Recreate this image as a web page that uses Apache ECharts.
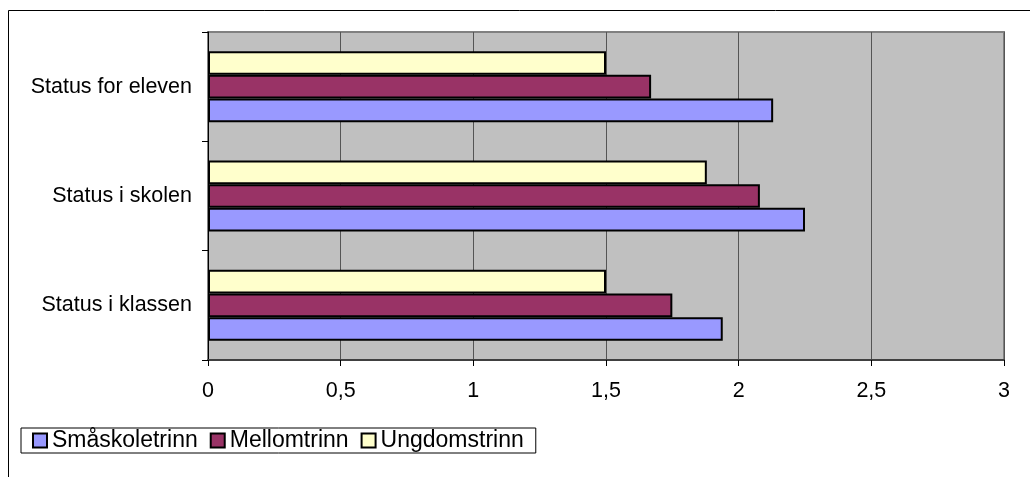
<!DOCTYPE html>
<html>
<head>
<meta charset="utf-8">
<script src="https://cdn.jsdelivr.net/npm/echarts@6/dist/echarts.min.js"></script>
<style>
html,body{margin:0;padding:0;background:#fff;}
#chart{width:1030px;height:477px;}
</style>
</head>
<body>
<div id="chart"></div>
<script>
const categories = ['Status i klassen', 'Status i skolen', 'Status for eleven'];
const seriesNames = ['Småskoletrinn', 'Mellomtrinn', 'Ungdomstrinn'];
const smaskoletrinn = [1.94, 2.25, 2.13];
const mellomtrinn = [1.75, 2.08, 1.67];
const ungdomstrinn = [1.5, 1.88, 1.5];
const colors = ['#9999FF', '#993366', '#FFFFCC'];

const FONT = '"Liberation Sans", Arial, sans-serif';
const chart = echarts.init(document.getElementById('chart'), null, {renderer: 'canvas'});

const values = [smaskoletrinn, mellomtrinn, ungdomstrinn];
// ECharts places horizontal bars top-down in series order, so add them reversed
const series = [2, 1, 0].map(i => ({
  name: seriesNames[i],
  type: 'bar',
  data: values[i],
  barGap: '0%',
  barCategoryGap: '35%',
  itemStyle: {color: colors[i], borderColor: '#000', borderWidth: 2},
  emphasis: {disabled: true}
}));

chart.setOption({
  animation: false,
  backgroundColor: '#fff',
  textStyle: {fontFamily: FONT},
  graphic: [{
    type: 'rect',
    z: -10,
    shape: {x: 8.5, y: 10.5, width: 1200, height: 700},
    style: {fill: 'none', stroke: '#000', lineWidth: 1}
  }],
  grid: {
    left: 208, right: 26, top: 32, bottom: 117,
    show: true, backgroundColor: '#C0C0C0', borderColor: '#808080', borderWidth: 2
  },
  legend: {
    left: 21, top: 428,
    orient: 'horizontal',
    data: seriesNames,
    icon: 'rect',
    itemWidth: 14, itemHeight: 14,
    itemGap: 12,
    padding: [1, 12, 1, 11],
    borderColor: '#000', borderWidth: 1,
    backgroundColor: '#fff',
    textStyle: {fontSize: 23, color: '#000', fontFamily: FONT, padding: [0, 0, 0, 0]},
    itemStyle: {borderColor: '#000', borderWidth: 2}
  },
  xAxis: {
    type: 'value',
    min: 0, max: 3, interval: 0.5,
    axisLine: {show: true, lineStyle: {color: '#404040', width: 2}},
    axisTick: {show: true, length: 6, lineStyle: {color: '#000', width: 1}},
    axisLabel: {
      fontSize: 21.5, color: '#000', fontFamily: FONT, margin: 20,
      formatter: v => String(v).replace('.', ',')
    },
    splitLine: {show: true, lineStyle: {color: '#555', width: 1}}
  },
  yAxis: {
    type: 'category',
    data: categories,
    axisLine: {show: true, lineStyle: {color: '#000', width: 1}},
    axisTick: {show: true, length: 6, lineStyle: {color: '#000', width: 1}},
    axisLabel: {fontSize: 21.5, color: '#000', fontFamily: FONT, margin: 16},
    splitLine: {show: false}
  },
  series: series
});
</script>
</body>
</html>
